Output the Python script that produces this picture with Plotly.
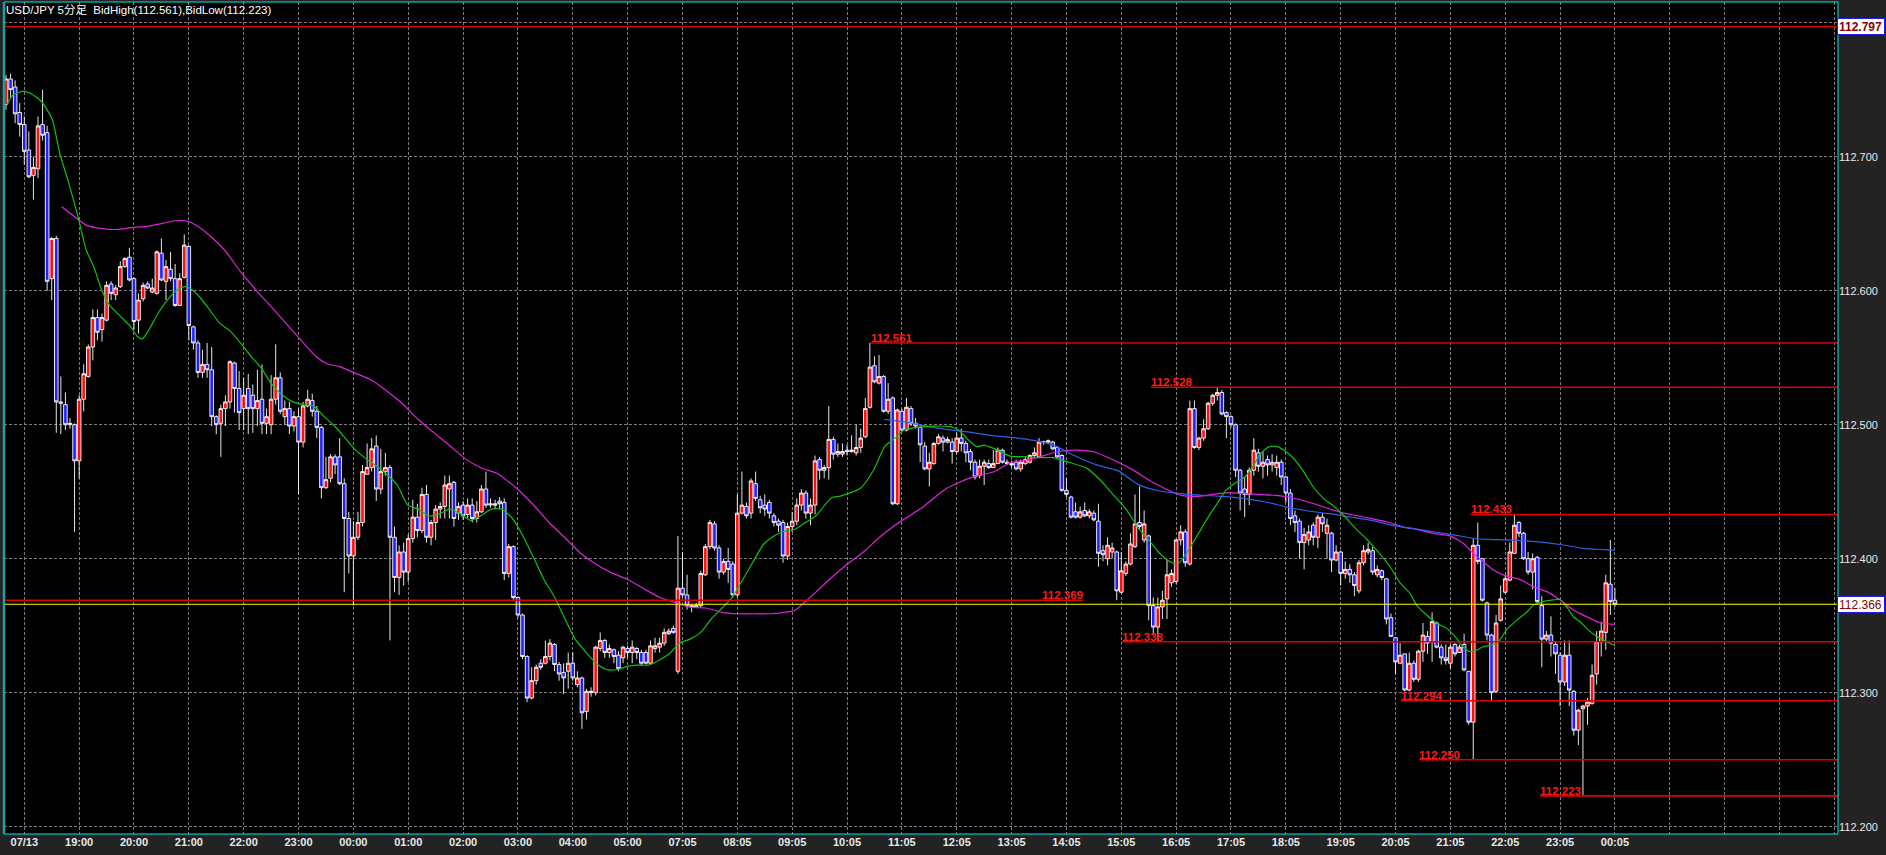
import plotly.graph_objects as go

# ---------------- data ----------------
opens = [
112.739,112.758,112.752,112.733,112.724,112.705,112.686,112.691,112.724,112.718,
112.609,112.639,112.517,112.515,112.500,112.500,112.473,112.519,112.536,112.558,
112.580,112.571,112.578,112.605,112.597,112.603,112.618,112.625,112.609,112.578,
112.594,112.605,112.599,112.598,112.628,112.607,112.616,112.609,112.589,112.610,
112.633,112.573,112.561,112.539,112.545,112.541,112.506,112.501,112.512,112.517,
112.546,112.527,112.512,112.527,112.522,112.512,112.519,112.501,112.500,112.519,
112.535,112.506,112.512,112.499,112.506,112.487,112.514,112.518,112.510,112.498,
112.453,112.460,112.476,112.476,112.456,112.430,112.402,112.416,112.427,112.463,
112.468,112.484,112.452,112.465,112.468,112.416,112.386,112.405,112.390,112.415,
112.431,112.421,112.448,112.416,112.427,112.437,112.439,112.452,112.457,112.434,
112.440,112.433,112.440,112.430,112.435,112.452,112.440,112.441,112.443,112.442,
112.389,112.409,112.371,112.358,112.327,112.296,112.309,112.322,112.322,112.327,
112.336,112.321,112.315,112.316,112.322,112.306,112.311,112.286,112.300,112.300,
112.333,112.339,112.330,112.332,112.328,112.326,112.333,112.330,112.333,112.330,
112.330,112.322,112.333,112.334,112.337,112.344,112.348,112.316,112.378,112.373,
112.365,112.364,112.365,112.388,112.409,112.426,112.408,112.390,112.398,112.396,
112.373,112.434,112.439,112.434,112.456,112.444,112.440,112.442,112.432,112.428,
112.427,112.402,112.424,112.428,112.440,112.449,112.434,112.440,112.474,112.466,
112.468,112.489,112.478,112.478,112.481,112.480,112.479,112.483,112.491,112.513,
112.544,112.531,112.536,112.510,112.520,112.441,112.510,112.496,112.512,112.501,
112.498,112.484,112.467,112.471,112.486,112.490,112.487,112.487,112.480,112.490,
112.486,112.480,112.472,112.462,112.469,112.471,112.468,112.471,112.481,112.472,
112.471,112.472,112.467,112.471,112.472,112.477,112.476,112.487,112.487,112.487,
112.483,112.477,112.451,112.446,112.435,112.431,112.436,112.432,112.434,112.428,
112.406,112.400,112.405,112.405,112.375,112.389,112.396,112.409,112.427,112.414,
112.417,112.365,112.349,112.364,112.370,112.382,112.383,112.414,112.420,112.396,
112.512,112.483,112.490,112.497,112.516,112.522,112.524,112.509,112.506,112.500,
112.466,112.452,112.448,112.466,112.479,112.469,112.474,112.470,112.468,112.472,
112.461,112.449,112.432,112.428,112.412,112.414,112.425,112.416,112.431,112.419,
112.419,112.399,112.405,112.389,112.392,112.388,112.376,112.397,112.405,112.406,
112.388,112.391,112.385,112.356,112.341,112.322,112.329,112.302,112.322,112.310,
112.331,112.342,112.338,112.352,112.334,112.326,112.322,112.336,112.330,112.336,
112.316,112.278,112.410,112.400,112.367,112.343,112.301,112.354,112.375,112.384,
112.404,112.427,112.419,112.400,112.390,112.401,112.365,112.340,112.343,112.336,
112.328,112.308,112.328,112.301,112.272,112.288,112.290,112.292,112.314,112.338,
112.345,112.381,112.369]

highs = [
112.761,112.762,112.757,112.740,112.730,112.719,112.700,112.730,112.750,112.723,
112.640,112.641,112.536,112.524,112.505,112.501,112.522,112.545,112.560,112.586,
112.586,112.583,112.607,112.607,112.604,112.622,112.625,112.632,112.610,112.598,
112.606,112.607,112.609,112.630,112.639,112.623,112.629,112.620,112.613,112.642,
112.634,112.574,112.563,112.556,112.561,112.558,112.507,112.515,112.522,112.548,
112.547,112.540,112.535,112.538,112.530,112.541,112.545,112.512,112.537,112.560,
112.539,112.518,112.517,112.510,112.512,112.517,112.526,112.523,112.514,112.499,
112.476,112.478,112.478,112.490,112.460,112.435,112.428,112.435,112.470,112.486,
112.490,112.492,112.482,112.479,112.470,112.424,112.410,112.412,112.418,112.444,
112.441,112.453,112.455,112.429,112.440,112.442,112.462,112.462,112.458,112.442,
112.443,112.445,112.445,112.443,112.455,112.465,112.445,112.444,112.446,112.445,
112.411,112.410,112.372,112.359,112.328,112.319,112.321,112.325,112.339,112.340,
112.337,112.323,112.322,112.330,112.330,112.316,112.312,112.303,112.304,112.335,
112.345,112.340,112.336,112.333,112.331,112.335,112.335,112.339,112.334,112.332,
112.332,112.339,112.341,112.341,112.348,112.348,112.350,112.417,112.405,112.388,
112.366,112.367,112.391,112.411,112.429,112.428,112.410,112.400,112.408,112.398,
112.448,112.465,112.442,112.460,112.465,112.447,112.448,112.444,112.434,112.430,
112.429,112.427,112.435,112.445,112.452,112.451,112.445,112.477,112.476,112.470,
112.514,112.491,112.486,112.486,112.485,112.492,112.500,112.497,112.520,112.561,
112.551,112.552,112.537,112.531,112.521,112.512,112.512,112.520,112.514,112.505,
112.500,112.487,112.479,112.487,112.493,112.492,112.491,112.490,112.494,112.497,
112.488,112.482,112.474,112.474,112.474,112.474,112.481,112.483,112.482,112.474,
112.473,112.474,112.474,112.476,112.478,112.483,112.490,112.488,112.489,112.488,
112.484,112.478,112.460,112.447,112.442,112.439,112.442,112.437,112.436,112.441,
112.410,112.416,112.412,112.406,112.405,112.398,112.419,112.448,112.454,112.436,
112.418,112.371,112.371,112.376,112.399,112.392,112.415,112.425,112.422,112.518,
112.518,112.491,112.504,112.517,112.523,112.528,112.526,112.510,112.507,112.501,
112.467,112.461,112.468,112.490,112.482,112.480,112.477,112.478,112.477,112.474,
112.462,112.452,112.436,112.430,112.423,112.425,112.427,112.433,112.434,112.430,
112.420,112.410,112.406,112.398,112.396,112.390,112.399,112.410,112.412,112.409,
112.395,112.392,112.385,112.359,112.341,112.337,112.329,112.330,112.324,112.332,
112.352,112.346,112.360,112.353,112.336,112.336,112.336,112.337,112.336,112.344,
112.316,112.415,112.427,112.400,112.368,112.344,112.358,112.380,112.388,112.412,
112.433,112.428,112.420,112.405,112.404,112.402,112.372,112.346,112.357,112.338,
112.330,112.339,112.339,112.302,112.288,112.291,112.296,112.321,112.346,112.353,
112.388,112.414,112.378]

lows = [
112.735,112.744,112.725,112.715,112.694,112.684,112.668,112.684,112.712,112.600,
112.593,112.494,112.493,112.496,112.497,112.420,112.460,112.510,112.535,112.548,
112.563,112.562,112.577,112.593,112.593,112.602,112.617,112.607,112.571,112.568,
112.592,112.601,112.598,112.597,112.607,112.593,112.607,112.588,112.589,112.609,
112.563,112.556,112.535,112.535,112.535,112.499,112.493,112.476,112.499,112.512,
112.509,112.496,112.496,112.493,112.494,112.499,112.493,112.493,112.493,112.515,
112.508,112.500,112.493,112.495,112.448,112.483,112.513,112.506,112.490,112.445,
112.452,112.457,112.463,112.455,112.375,112.389,112.365,112.414,112.424,112.463,
112.465,112.443,112.448,112.462,112.339,112.375,112.373,112.380,112.383,112.412,
112.416,112.419,112.412,112.410,112.414,112.430,112.430,112.430,112.424,112.429,
112.429,112.430,112.427,112.427,112.434,112.438,112.438,112.437,112.437,112.384,
112.386,112.369,112.356,112.325,112.293,112.295,112.306,112.317,112.321,112.324,
112.316,112.309,112.299,112.303,112.309,112.304,112.273,112.280,112.297,112.298,
112.331,112.326,112.326,112.322,112.316,112.322,112.326,112.322,112.325,112.320,
112.321,112.321,112.330,112.330,112.335,112.343,112.344,112.314,112.371,112.362,
112.360,112.363,112.364,112.387,112.407,112.406,112.385,112.388,112.382,112.371,
112.371,112.433,112.430,112.430,112.443,112.434,112.432,112.430,112.424,112.420,
112.397,112.399,112.420,112.425,112.436,112.430,112.425,112.433,112.459,112.460,
112.459,112.474,112.476,112.476,112.477,112.479,112.477,112.479,112.490,112.512,
112.531,112.530,112.509,112.508,112.440,112.440,112.495,112.495,112.499,112.497,
112.472,112.466,112.454,112.470,112.485,112.480,112.486,112.471,112.478,112.480,
112.472,112.466,112.459,112.460,112.455,112.467,112.468,112.471,112.471,112.470,
112.468,112.466,112.465,112.470,112.471,112.476,112.475,112.485,112.486,112.481,
112.475,112.450,112.446,112.430,112.430,112.430,112.431,112.430,112.428,112.394,
112.398,112.395,112.400,112.369,112.374,112.387,112.395,112.408,112.422,112.412,
112.354,112.343,112.338,112.355,112.355,112.379,112.381,112.410,112.394,112.395,
112.482,112.481,112.488,112.496,112.514,112.518,112.507,112.490,112.498,112.461,
112.436,112.431,112.440,112.462,112.465,112.460,112.462,112.465,112.462,112.455,
112.442,112.425,112.420,112.400,112.392,112.410,112.410,112.408,112.420,112.400,
112.390,112.398,112.380,112.385,112.382,112.372,112.374,112.395,112.403,112.388,
112.386,112.384,112.351,112.342,112.314,112.322,112.301,112.301,112.308,112.308,
112.323,112.329,112.323,112.333,112.321,112.321,112.318,112.327,112.330,112.316,
112.276,112.250,112.396,112.368,112.339,112.294,112.300,112.353,112.374,112.383,
112.404,112.416,112.399,112.388,112.377,112.367,112.319,112.338,112.327,112.314,
112.290,112.305,112.290,112.268,112.261,112.223,112.276,112.291,112.306,112.327,
112.332,112.358,112.364]

closes = [
112.758,112.750,112.732,112.724,112.704,112.685,112.692,112.723,112.716,112.607,
112.639,112.517,112.516,112.500,112.501,112.473,112.519,112.538,112.558,112.580,
112.569,112.580,112.604,112.598,112.602,112.618,112.624,112.608,112.577,112.593,
112.604,112.602,112.602,112.629,112.608,112.618,112.609,112.589,112.609,112.634,
112.574,112.561,112.539,112.545,112.541,112.506,112.500,112.512,112.517,112.547,
112.527,112.509,112.522,112.512,112.512,112.518,112.501,112.506,112.519,112.535,
112.510,112.512,112.499,112.506,112.487,112.514,112.519,112.510,112.498,112.453,
112.459,112.476,112.470,112.456,112.430,112.402,112.416,112.427,112.465,112.468,
112.482,112.452,112.465,112.468,112.416,112.386,112.405,112.390,112.415,112.431,
112.421,112.448,112.416,112.427,112.437,112.439,112.455,112.456,112.430,112.439,
112.432,112.440,112.430,112.435,112.452,112.440,112.441,112.440,112.441,112.389,
112.409,112.371,112.358,112.327,112.296,112.309,112.319,112.319,112.327,112.337,
112.321,112.314,112.311,112.322,112.311,112.311,112.285,112.301,112.301,112.334,
112.339,112.330,112.333,112.327,112.318,112.334,112.330,112.334,112.330,112.322,
112.322,112.335,112.335,112.337,112.345,112.346,112.345,112.378,112.373,112.365,
112.364,112.365,112.389,112.409,112.427,112.408,112.390,112.398,112.392,112.373,
112.434,112.440,112.432,112.458,112.445,112.438,112.437,112.434,112.427,112.425,
112.402,112.424,112.428,112.440,112.449,112.434,112.440,112.473,112.466,112.468,
112.489,112.478,112.480,112.480,112.480,112.481,112.483,112.490,112.512,112.543,
112.532,112.536,112.510,112.519,112.441,112.511,112.496,112.513,112.501,112.499,
112.485,112.467,112.472,112.486,112.491,112.487,112.489,112.480,112.490,112.486,
112.479,112.472,112.461,112.469,112.472,112.468,112.471,112.481,112.472,112.471,
112.470,112.467,112.472,112.474,112.477,112.479,112.487,112.487,112.488,112.482,
112.476,112.451,112.448,112.431,112.431,112.435,112.432,112.435,112.429,112.404,
112.403,112.410,112.408,112.376,112.391,112.396,112.411,112.426,112.424,112.426,
112.365,112.349,112.364,112.369,112.388,112.389,112.414,112.420,112.397,112.512,
112.483,112.490,112.497,112.516,112.522,112.524,112.508,112.506,112.500,112.466,
112.449,112.448,112.466,112.481,112.469,112.472,112.470,112.472,112.472,112.461,
112.449,112.430,112.427,112.412,112.418,112.420,112.416,112.431,112.426,112.425,
112.399,112.405,112.389,112.392,112.388,112.380,112.397,112.406,112.407,112.390,
112.392,112.386,112.355,112.342,112.323,112.328,112.302,112.322,112.310,112.331,
112.343,112.337,112.353,112.334,112.326,112.324,112.334,112.329,112.334,112.317,
112.278,112.410,112.398,112.369,112.343,112.300,112.352,112.370,112.385,112.405,
112.425,112.419,112.400,112.390,112.400,112.368,112.340,112.343,112.337,112.329,
112.308,112.328,112.302,112.272,112.287,112.290,112.293,112.313,112.338,112.346,
112.382,112.368,112.366]

# moving averages (bar position, price)
green_x = [0.1,1.5,3.8,5.5,7.8,10.1,11.8,13.6,15.8,17.6,19.3,21.0,22.7,25.0,27.3,28.7,29.8,31.3,33.0,35.1,
           37.6,39.3,41.0,42.7,44.5,46.7,49.0,51.3,53.6,55.9,58.2,60.5,62.8,65.0,67.3,69.6,71.9,74.2,76.5,78.8,
           81.1,83.3,85.6,87.9,90.2,92.5,94.8,97.1,99.4,101.7,103.9,106.2,108.5,110.8,113.1,115.4,117.7,120.0,
           122.3,124.5,126.8,129.1,131.4,133.7,135.9,138.2,140.6,142.8,145.1,147.4,149.7,152.0,154.3,156.6,
           158.9,161.2,163.4,165.7,168.0,170.3,172.6,174.9,177.2,180.6,182.5,186.9,189.8,192.3,194.5,196.4,
           199.3,202.9,206.6,208.4,210.2,212.4,213.9,216.1,219.7,223.3,226.3,229.2,232.1,236.5,239.4,242.3,
           245.2,247.8,250.1,252.5,254.8,256.5,258.2,260.0,261.7,263.5,265.2,266.9,268.7,271.0,272.7,274.5,
           276.2,277.9,279.7,281.4,283.7,286.0,288.3,290.7,293.0,295.3,297.6,299.9,302.8,305.0,307.2,308.6,
           310.8,313.0,315.2,317.0,318.8,320.3,321.8,323.2,325.0,326.5,328.3,330.5,332.7,334.2,336.3,338.5,
           340.0,341.4,342.9,344.4,345.8,348.0,350.2,352.0]
green_y = [112.738,112.746,112.749,112.747,112.741,112.728,112.702,112.682,112.6545,112.630,112.617,112.600,
           112.589,112.581,112.573,112.566,112.564,112.571,112.5815,112.592,112.601,112.603,112.600,112.594,
           112.586,112.576,112.570,112.561,112.551,112.542,112.530,112.522,112.517,112.515,112.514,112.506,
           112.499,112.490,112.481,112.4745,112.469,112.463,112.455,112.440,112.437,112.432,112.4335,112.437,
           112.4335,112.4286,112.432,112.437,112.437,112.430,112.417,112.401,112.3845,112.3714,112.355,112.340,
           112.3305,112.322,112.3173,112.3173,112.3196,112.3206,112.3206,112.324,112.329,112.337,112.340,
           112.345,112.355,112.363,112.3714,112.3845,112.3975,112.4106,112.417,112.4205,112.422,112.427,
           112.432,112.4455,112.4467,112.4525,112.466,112.484,112.490,112.496,112.498,112.499,112.4985,
           112.496,112.4898,112.4836,112.4848,112.4823,112.4766,112.4761,112.4754,112.4754,112.4724,112.4674,
           112.4587,112.4475,112.4363,112.4224,112.4137,112.4037,112.3975,112.3963,112.4037,112.4137,112.4236,
           112.4336,112.4423,112.451,112.456,112.461,112.4684,112.4784,112.4833,112.4838,112.4808,112.4759,
           112.4659,112.4535,112.4448,112.4386,112.4311,112.4224,112.4149,112.4062,112.394,112.382,112.374,
           112.3654,112.358,112.352,112.348,112.342,112.3343,112.3306,112.332,112.3343,112.3356,112.338,
           112.347,112.354,112.360,112.3654,112.368,112.3692,112.3697,112.3642,112.3567,112.353,112.348,
           112.342,112.3381,112.335]

magenta_x = [12.2,14.7,17.6,21.0,24.4,27.3,30.7,34.2,37.0,39.3,41.6,44.5,47.9,51.3,54.7,58.2,61.6,65.0,67.9,
             70.2,73.1,76.5,79.9,83.3,86.8,90.2,93.6,97.1,100.5,103.9,107.4,109.7,112.0,115.4,118.8,122.3,
             125.7,129.1,132.5,136.0,139.4,142.8,146.3,149.7,153.1,156.6,160.0,163.4,166.9,170.3,172.6,174.9,
             177.2,180.6,184.1,187.6,191.1,194.5,196.7,200.7,205.8,211.7,216.1,219.7,223.3,226.3,229.9,233.6,
             237.9,242.3,246.7,250.1,253.6,257.1,260.6,264.0,267.5,271.0,274.5,277.9,281.4,284.9,288.3,291.8,
             295.3,298.8,302.2,305.7,308.6,312.7,315.9,318.8,321.0,323.2,325.4,328.3,331.2,334.2,337.1,340.0,
             342.9,345.8,348.7,352.0]
magenta_y = [112.6627,112.6561,112.6489,112.6463,112.6457,112.647,112.648,112.6502,112.6522,112.6522,112.6489,
             112.6414,112.630,112.6142,112.6005,112.5874,112.5743,112.5612,112.5507,112.5455,112.5432,112.5383,
             112.5334,112.5252,112.5154,112.5039,112.4941,112.4843,112.4745,112.4679,112.4637,112.4581,112.4516,
             112.4401,112.427,112.4156,112.4041,112.3959,112.3894,112.3845,112.3779,112.3714,112.3674,112.3638,
             112.3632,112.360,112.3589,112.3589,112.3589,112.360,112.3615,112.3681,112.3751,112.3860,112.3960,
             112.4050,112.4160,112.4250,112.4300,112.4388,112.4525,112.4612,112.4649,112.4716,112.4736,112.4761,
             112.4798,112.4811,112.4798,112.4736,112.4659,112.4585,112.4522,112.4473,112.4465,112.448,112.4493,
             112.4485,112.4478,112.4473,112.4455,112.4423,112.4386,112.4348,112.4323,112.4299,112.4274,112.4236,
             112.4219,112.4187,112.417,112.4115,112.404,112.3978,112.3916,112.387,112.3846,112.379,112.3754,
             112.3692,112.3617,112.3567,112.3522,112.351]

blue_x = [192.2,196.9,201.5,206.1,210.8,215.4,220.0,224.7,229.3,233.8,238.6,243.2,247.9,252.4,257.1,261.7,
          266.3,271.0,275.6,280.2,284.9,289.5,294.1,298.8,303.4,308.0,312.7,317.3,321.9,326.6,331.2,335.8,
          340.5,345.1,349.7,352.0]
blue_y = [112.504,112.502,112.4988,112.4963,112.4945,112.492,112.4905,112.4883,112.4846,112.4768,112.4700,
          112.4657,112.4551,112.4505,112.4485,112.4473,112.4465,112.4448,112.4423,112.4386,112.4356,112.4336,
          112.4311,112.4286,112.4249,112.4224,112.4199,112.4174,112.4149,112.4142,112.4137,112.4124,112.4104,
          112.4077,112.4067,112.4062]

# time axis labels (one every 12 bars, first at bar 4)
time_labels = ["07/13", "19:00", "20:00", "21:00", "22:00", "23:00", "00:00", "01:00", "02:00", "03:00",
               "04:00", "05:00", "07:05", "08:05", "09:05", "10:05", "11:05", "12:05", "13:05", "14:05",
               "15:05", "16:05", "17:05", "18:05", "19:05", "20:05", "21:05", "22:05", "23:05", "00:05",
               "", "", "", ""]
price_ticks = [112.2, 112.3, 112.4, 112.5, 112.6, 112.7, 112.8]
price_tick_labels = ["112.200", "112.300", "112.400", "112.500", "112.600", "112.700", ""]

# high / low marker lines: price level and the bar where the line (and its label) starts
level_prices = [112.561, 112.528, 112.433, 112.338, 112.294, 112.250, 112.223]
level_starts = [189.2, 250.5, 320.4, 244.1, 305.1, 309.2, 335.6]
left_level_price = 112.369
left_level_end = 235.6
prev_high = 112.797
current_price = 112.366

title_text = "USD/JPY 5分足  BidHigh(112.561),BidLow(112.223)"

# ---------------- figure ----------------
n = len(opens)
assert len(highs) == n and len(lows) == n and len(closes) == n
highs = [max(h, o, c) for h, o, c in zip(highs, opens, closes)]
lows = [min(l, o, c) for l, o, c in zip(lows, opens, closes)]
bars = list(range(n))

W, H = 1886, 855
ML, MR, MT, MB = 4, 48, 2, 21
px_per_bar = 54.85 / 12.0
x_lo = (ML - 6) / px_per_bar
x_hi = (W - MR - 6) / px_per_bar
y_lo = 112.2 - (834 - 826.7) / 1340.0
y_hi = 112.2 + (826.7 - MT) / 1340.0

GRID = "#7c7c7c"
AXFONT = "Liberation Sans"

fig = go.Figure()
fig.add_trace(go.Candlestick(
    x=bars, open=opens, high=highs, low=lows, close=closes,
    increasing=dict(line=dict(color="#ffffff", width=0.9), fillcolor="#ff1010"),
    decreasing=dict(line=dict(color="#ffffff", width=0.9), fillcolor="#2020ff"),
    whiskerwidth=0, hoverinfo="skip", showlegend=False))

for xs, ys, col in [(magenta_x, magenta_y, "#dd22dd"), (blue_x, blue_y, "#2f5fe8"),
                    (green_x, green_y, "#10c010")]:
    fig.add_trace(go.Scatter(x=xs, y=ys, mode="lines", line=dict(color=col, width=1.2, shape="spline",
                             smoothing=0.6), hoverinfo="skip", showlegend=False))

shapes = []
shapes.append(dict(type="line", xref="x", yref="y", x0=x_lo, x1=x_hi, y0=prev_high, y1=prev_high,
                   line=dict(color="#e00000", width=1.3)))
shapes.append(dict(type="line", xref="x", yref="y", x0=x_lo, x1=left_level_end, y0=left_level_price,
                   y1=left_level_price, line=dict(color="#e00000", width=1.5)))
shapes.append(dict(type="line", xref="x", yref="y", x0=x_lo, x1=x_hi, y0=current_price, y1=current_price,
                   line=dict(color="#ffff00", width=1.2)))
for p, s in zip(level_prices, level_starts):
    shapes.append(dict(type="line", xref="x", yref="y", x0=s, x1=x_hi, y0=p, y1=p,
                       line=dict(color="#e00000", width=1.6)))
shapes.append(dict(type="rect", xref="paper", yref="paper", x0=0, x1=1, y0=0, y1=1,
                   line=dict(color="#00e6e6", width=1), layer="above"))
shapes.append(dict(type="line", xref="paper", yref="paper", x0=0, x1=0, y0=0, y1=1,
                   line=dict(color="#1fa0a0", width=2.5), layer="above"))

annotations = []
LABFONT = dict(family="Liberation Sans", size=11.5, color="#ff1a1a", weight="bold")
for p, s in zip(level_prices, level_starts):
    annotations.append(dict(x=s, y=p, xref="x", yref="y", text=f"{p:.3f}", showarrow=False,
                            xanchor="left", yanchor="bottom", yshift=-3, xshift=-2, font=LABFONT))
annotations.append(dict(x=left_level_end, y=left_level_price, xref="x", yref="y",
                        text=f"{left_level_price:.3f}", showarrow=False, xanchor="right",
                        yanchor="bottom", yshift=-3, xshift=2, font=LABFONT))
annotations.append(dict(x=0, y=1, xref="paper", yref="paper", text=title_text, showarrow=False,
                        xanchor="left", yanchor="top", xshift=0, yshift=0,
                        font=dict(family="Liberation Sans, Noto Sans CJK JP", size=11.5, color="#ffffff")))
for p, bold in [(prev_high, True), (current_price, False)]:
    annotations.append(dict(x=1, y=p, xref="paper", yref="y", text=f"{p:.3f}", showarrow=False,
                            xanchor="left", yanchor="middle", xshift=-1, align="left", width=44, height=13,
                            bgcolor="#ffffff", bordercolor="#1c1cf0", borderwidth=1, borderpad=1,
                            font=dict(family=AXFONT, size=12, color="#8b0000",
                                      weight="bold" if bold else "normal")))

fig.update_layout(
    width=W, height=H, margin=dict(l=ML, r=MR, t=MT, b=MB, pad=0),
    paper_bgcolor="#232323", plot_bgcolor="#000000",
    boxgap=0.22, boxgroupgap=0,
    shapes=shapes, annotations=annotations, showlegend=False,
    xaxis=dict(range=[x_lo, x_hi], tickmode="array", tickvals=[4 + 12 * k for k in range(len(time_labels))],
               ticktext=time_labels, showgrid=True, gridcolor=GRID, griddash="3px,2px", gridwidth=1,
               zeroline=False, showline=False, ticks="", rangeslider=dict(visible=False), fixedrange=True,
               tickfont=dict(family=AXFONT, size=11, color="#e8e8e8", weight="bold")),
    yaxis=dict(range=[y_lo, y_hi], side="right", tickmode="array", tickvals=price_ticks,
               ticktext=price_tick_labels, showgrid=True, gridcolor=GRID, griddash="3px,2px", gridwidth=1,
               zeroline=False, showline=False, ticks="", fixedrange=True,
               tickfont=dict(family=AXFONT, size=11, color="#e8e8e8")),
)

fig.write_html("out.html", config={"displayModeBar": False},
               post_script="document.body.style.margin='0';document.body.style.overflow='hidden';")
